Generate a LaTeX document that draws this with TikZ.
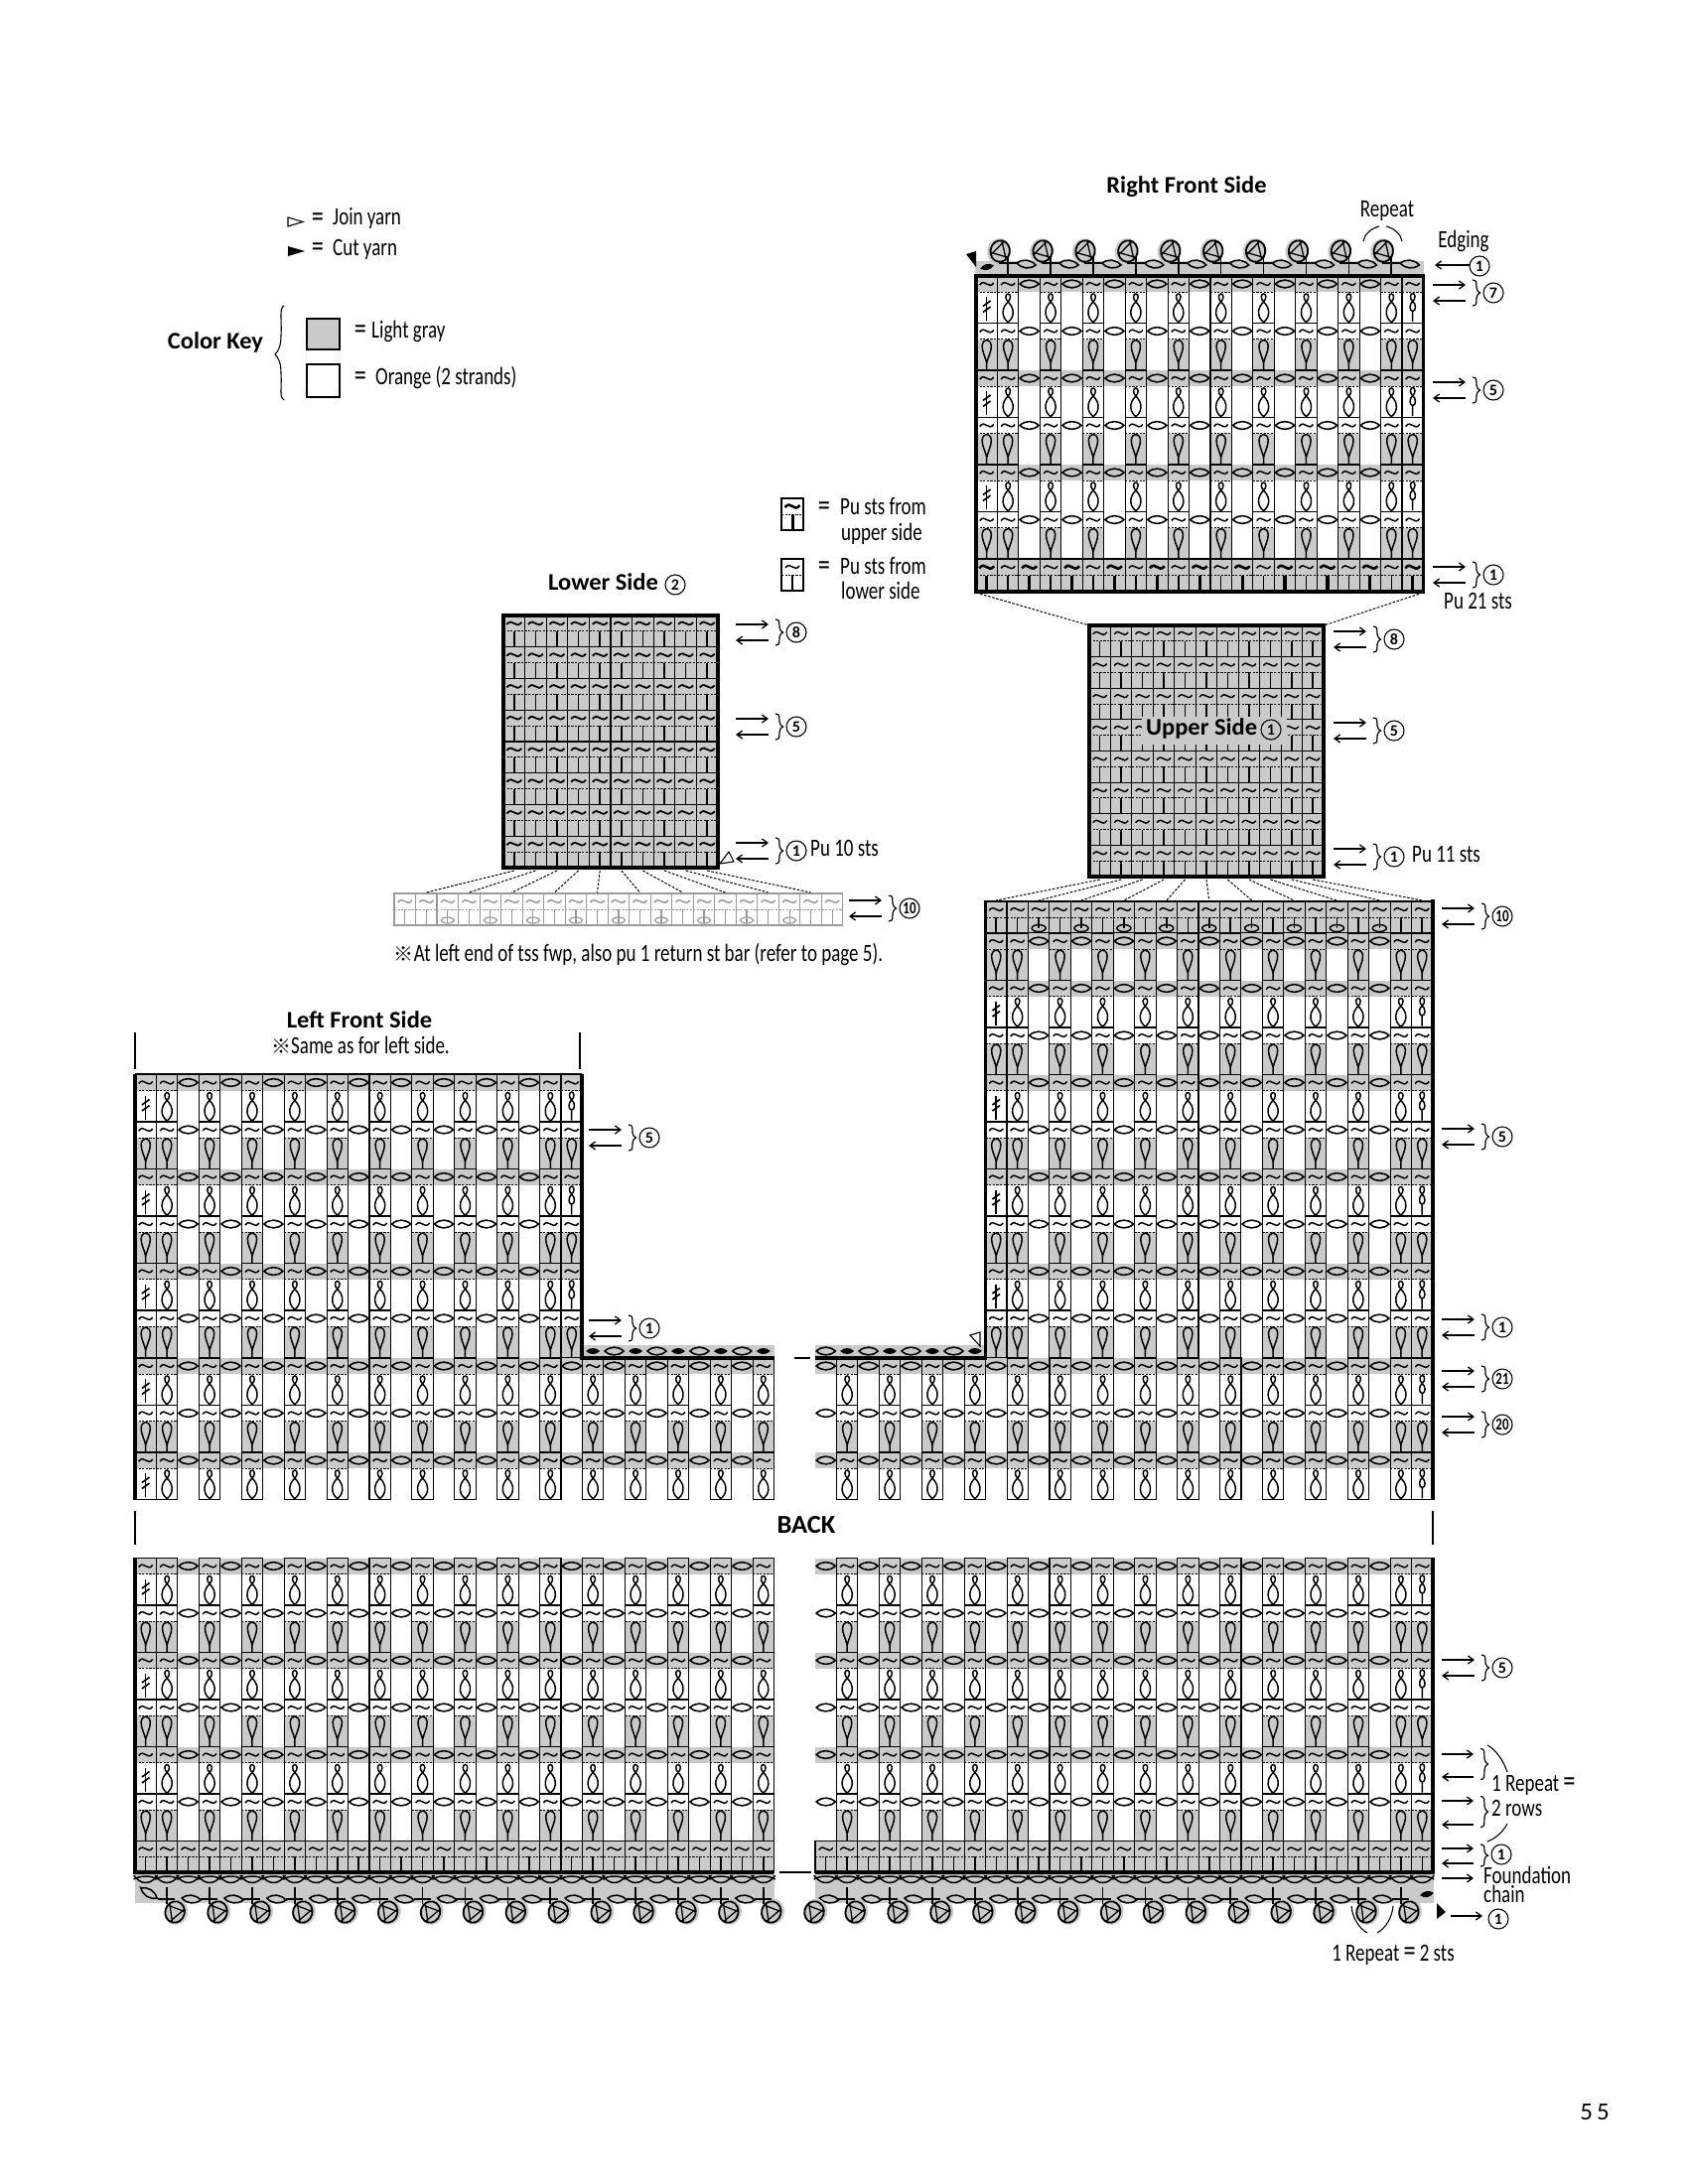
\documentclass[tikz,border=0pt]{standalone}
\usepackage{fontspec}
\usetikzlibrary{arrows.meta}
\setmainfont{Carlito}
\newfontfamily\cond{Carlito}[FakeStretch=0.76]
\newfontfamily\hdg{Carlito}[FakeStretch=1.02]
\newfontfamily\cjk{Noto Sans CJK JP}
\definecolor{gfill}{HTML}{C9CACA}
\definecolor{gline}{HTML}{9A9A9A}
\def\cw{21.45}
\newif\ifbx
\def\setbx#1#2#3{\bxfalse\ifodd#1\relax\bxtrue\fi\ifnum#1=#2\relax\bxtrue\fi\ifnum#1=#3\relax\bxtrue\fi}
\newcounter{gc}
\newcommand\eqq{{\fontsize{32}{27}\selectfont =}}
\newcommand\refmark{{\cjk\fontsize{20}{20}\selectfont ※}}
\tikzset{
  boxln/.style={line width=1.1pt},
  dashln/.style={line width=1pt,dash pattern=on 2.2pt off 1.4pt},
  sym/.style={line width=1.5pt},
  frameln/.style={line width=3.6pt,line cap=rect},
  heavy/.style={line width=4.6pt},
  fan/.style={line width=1pt,dash pattern=on 2.6pt off 1.6pt},
  arr/.style={line width=1.3pt,-{Straight Barb[length=5.5pt,width=8pt]}},
  txt/.style={font=\cond\fontsize{25}{27}\selectfont,inner sep=0pt},
  mw/.style={anchor=mid west,yshift=-3.5pt},
  eqn/.style={font=\cond\fontsize{32}{27}\selectfont,inner sep=0pt},
  head/.style={font=\hdg\bfseries\fontsize{24}{27}\selectfont,inner sep=0pt},
  cn/.style={circle,draw,line width=1.1pt,minimum size=20pt,inner sep=0pt,font=\bfseries\fontsize{16}{16}\selectfont},
  cnw/.style={cn,font=\cond\bfseries\fontsize{17}{16}\selectfont},
  tld/.pic={\draw[sym] (-7,1) .. controls (-4.5,-2.6) and (-2,-1.4) .. (0,0) .. controls (2,1.4) and (4.5,2.6) .. (7,-1);},
  tldk/.pic={\draw[line width=2.6pt] (-7.5,1) .. controls (-4.5,-2.8) and (-2,-1.4) .. (0,0) .. controls (2,1.4) and (4.5,2.8) .. (7.5,-1);},
  tldm/.pic={\draw[line width=1.8pt] (-7.5,1) .. controls (-4.5,-2.6) and (-2,-1.4) .. (0,0) .. controls (2,1.4) and (4.5,2.6) .. (7.5,-1);},
  lens/.pic={\draw[line width=1.6pt] (-9.5,0) .. controls (-4,-5.2) and (4,-5.2) .. (9.5,0) .. controls (4,5.2) and (-4,5.2) .. cycle;},
  blackoval/.pic={\fill (-7,0) .. controls (-3,-4) and (3,-4) .. (7,0) .. controls (3,4) and (-3,4) .. cycle;},
  eightsym/.pic={\draw[sym] (0,10) .. controls (-3.2,7) and (-2.8,2) .. (0,2) .. controls (2.8,2) and (3.2,7) .. (0,10)
      .. controls (-3,13) and (-5.6,17) .. (-5,22) .. controls (-4.7,26) and (-2,29) .. (0,30.6) .. controls (2,29) and (4.7,26) .. (5,22) .. controls (5.6,17) and (3,13) .. (0,10);},
  dropsym/.pic={\draw[sym] (0,24) .. controls (-1.5,18) and (-4.8,12) .. (-4.6,7) .. controls (-4.4,3) and (-2,1) .. (0,1) .. controls (2,1) and (4.4,3) .. (4.6,7) .. controls (4.8,12) and (1.5,18) .. (0,24) -- (0,31.5);},
  daggsym/.pic={\draw[sym] (0,5) -- (0,29); \draw[line width=1.7pt] (-3.8,14.5) -- (3.8,9) (-3.8,20.5) -- (3.8,15);},
  neightsym/.pic={\draw[sym] (0,9.5) .. controls (-3.2,7) and (-2.8,1.5) .. (0,1.5) .. controls (2.8,1.5) and (3.2,7) .. (0,9.5) .. controls (-3.6,12) and (-3.6,19.5) .. (0,19.5) .. controls (3.6,19.5) and (3.6,12) .. (0,9.5) (0,19.5) -- (0,30);},
  eyestem/.pic={\draw[line width=1.5pt,fill=gfill] (0,11) ellipse[x radius=7,y radius=3.5]; \draw[line width=1.6pt] (0,0) -- (0,11);},
  eyestemg/.pic={\draw[line width=1.2pt] (0,11) ellipse[x radius=6.6,y radius=3]; \draw[line width=1.2pt] (0,0) -- (0,14);},
  flowerx/.pic={\fill[gfill] (1,-0.5) ellipse[x radius=12,y radius=13.2];
    \draw[line width=1.8pt] (0,0) ellipse[x radius=9.7,y radius=10.8];
    \draw[line width=1.3pt] (90:10.5) -- (222:9.5) (210:9.5) -- (342:9.5) (330:9.5) -- (102:10.5);},
  brc/.pic={\draw[line width=1.2pt] (-3,-13) .. controls (2,-13) and (0.5,-9) .. (1,-5) .. controls (1.3,-2) and (3,-0.5) .. (4.5,0) .. controls (3,0.5) and (1.3,2) .. (1,5) .. controls (0.5,9) and (2,13) .. (-3,13);},
}
% region of alternating rows: x0, n, y0, types, extra box A, extra box B
\newcommand\chartx[6]{%
  \pgfmathtruncatemacro\lastc{#2-1}%
  \pgfmathsetmacro\xe{#1+#2*\cw}%
  \foreach \t [count=\r from 0] in {#4}{%
    \pgfmathsetmacro\yy{#3+\r*47.5}%
    \pgfmathsetmacro\ya{\yy+16}%
    \pgfmathsetmacro\ym{\yy+8}%
    \pgfmathsetmacro\yb{\yy+47.5}%
    \if\t B\else\fill[gfill] (#1,\yy) rectangle (\xe,\ya);\fi
    \if\t A\else
      \foreach \c in {0,...,\lastc}{\setbx\c{#5}{#6}\ifbx\pgfmathsetmacro\xl{#1+\c*\cw}\pgfmathsetmacro\xr{\xl+\cw}\fill[gfill] (\xl,\ya) rectangle (\xr,\yb);\fi}%
    \fi
    \foreach \c in {0,...,\lastc}{%
      \setbx\c{#5}{#6}%
      \pgfmathsetmacro\xl{#1+\c*\cw}\pgfmathsetmacro\xr{\xl+\cw}\pgfmathsetmacro\xm{\xl+\cw/2}%
      \ifbx
        \draw[boxln] (\xl,\yy) rectangle (\xr,\yb);
        \draw[dashln] (\xl,\ya) -- (\xr,\ya);
        \pic at (\xm,\ym) {tld};
        \if\t A
          \ifnum\c=#5\relax\pic at (\xm,\ya) {daggsym};\else
          \ifnum\c=#6\relax\pic at (\xm,\ya) {neightsym};\else
          \pic at (\xm,\ya) {eightsym};\fi\fi
        \else
          \pic at (\xm,\ya) {dropsym};
        \fi
      \else
        \pic at (\xm,\ym) {lens};
      \fi
    }%
  }%
}
% rows of tilde + stem: x0,n,w,y0,nrows,h,mode
\newcommand\stemrows[7]{%
  \pgfmathtruncatemacro\lastc{#2-1}%
  \pgfmathtruncatemacro\lastr{#5-1}%
  \foreach \r in {0,...,\lastr}{%
    \pgfmathsetmacro\yy{#4+\r*#6}\pgfmathsetmacro\ya{\yy+#6/2}\pgfmathsetmacro\ym{\yy+#6/4}\pgfmathsetmacro\yb{\yy+#6}%
    \foreach \c in {0,...,\lastc}{%
      \pgfmathsetmacro\xl{#1+\c*#3}\pgfmathsetmacro\xr{\xl+#3}\pgfmathsetmacro\xm{\xl+#3/2}%
      \if#7G\else\fill[gfill] (\xl,\yy) rectangle (\xr,\yb);\fi
      \draw[boxln] (\xl,\yy) rectangle (\xr,\yb);
      \draw[dashln] (\xl,\ya) -- (\xr,\ya);
      \ifodd\c\def\evn{0}\else\def\evn{1}\fi
      \if#7P\ifnum\evn=1 \pic at (\xm,\ym) {tldk};\draw[line width=3.2pt] (\xm,\ya) -- (\xm,\yb);\else\pic at (\xm,\ym) {tld};\draw[sym] (\xm,\ya) -- (\xm,\yb);\fi\fi
      \if#7N\pic at (\xm,\ym) {tld};\draw[sym] (\xm,\ya) -- (\xm,\yb);\fi
      \if#7K\pic at (\xm,\ym) {tldm};\draw[sym] (\xm,\ya) -- (\xm,\yb);\fi
      \if#7E\pic at (\xm,\ym) {tld};
        \ifnum\evn=1 \ifnum\c>0 \ifnum\c<20 \pic at (\xm,\ya) {eyestem};\else\draw[sym] (\xm,\ya) -- (\xm,\yb);\fi\else\draw[sym] (\xm,\ya) -- (\xm,\yb);\fi
        \else\draw[sym] (\xm,\ya) -- (\xm,\yb);\fi\fi
      \if#7G\pic at (\xm,\ym) {tld};
        \ifnum\evn=1 \ifnum\c>0 \ifnum\c<20 \pic at (\xm,\ya) {eyestemg};\else\draw[line width=1.2pt] (\xm,\ya) -- (\xm,\yb);\fi\else\draw[line width=1.2pt] (\xm,\ya) -- (\xm,\yb);\fi
        \else\draw[line width=1.2pt] (\xm,\ya) -- (\xm,\yb);\fi\fi
    }%
  }%
}
% arrow pair, brace, circled number
\newcommand\grp[3]{%
  \stepcounter{gc}%
  \coordinate (ga\thegc) at (#1,#2-8);
  \coordinate (gb\thegc) at (#1+33,#2-8);
  \coordinate (gd\thegc) at (#1+33,#2+8);
  \coordinate (ge\thegc) at (#1,#2+8);
  \draw[arr] (ga\thegc) -- (gb\thegc);
  \draw[arr] (gd\thegc) -- (ge\thegc);
  \pic at (#1+43,#2) {brc};
  \ifnum#3>9 \node[cnw] (gn\thegc) at (#1+61,#2) {#3};\else\node[cn] (gn\thegc) at (#1+61,#2) {#3};\fi
}
\begin{document}
\begin{tikzpicture}[x=1pt,y=-1pt]
\useasboundingbox (0,0) rectangle (1700,2200);
\fill[white] (0,0) rectangle (1700,2200);

% ---------- Right Front Side
\fill[gfill] (982,263) rectangle (1434,278);
\chartx{983}{21}{278}{A,B,A,B,A,B}{0}{20}
\stemrows{983}{21}{\cw}{563}{1}{33}{P}
\foreach \c in {1,3,...,19}{
  \pgfmathsetmacro\xm{983+(\c+.5)*\cw}\pgfmathsetmacro\xf{\xm-8}\pgfmathsetmacro\xa{\xm-9}\pgfmathsetmacro\xb{\xm+9}
  \pic[rotate=170] at (\xf,253) {flowerx};
  \draw[line width=1.6pt] (\xm,278) -- (\xm,258) (\xa,265) -- (\xb,265);
}
\foreach \c in {2,4,...,20}{
  \pgfmathsetmacro\xm{983+(\c+.5)*\cw-3}
  \pic[rotate=-6] at (\xm,266) {lens};
}
\pic[rotate=14] at (994,269) {blackoval};
\fill (973,256) -- (983,253) -- (983,269) -- cycle;
\draw[frameln] (983,278) rectangle (1433.5,596);
\node[head] (rf) at (1195,188) {Right Front Side};
\node[txt] (rep) at (1397,212) {Repeat};
\draw[line width=1.1pt] (1373,243) .. controls (1374,236) and (1381,230) .. (1389,228);
\draw[line width=1.1pt] (1412,243) .. controls (1411,236) and (1404,230) .. (1396,228);
\node[txt] (edg) at (1474,243) {Edging};
\coordinate (e1) at (1480,267); \coordinate (e2) at (1445,267);
\draw[arr] (e1) -- (e2);
\node[cn] (e3) at (1490,268) {1};
\grp{1443}{295}{7}
\grp{1443}{393}{5}
\grp{1443}{579}{1}
\node[txt,mw] (pu21) at (1454,608) {Pu 21 sts};

% ---------- Upper Side
\stemrows{1097}{11}{\cw}{630}{8}{31.63}{N}
\draw[frameln] (1097,630) rectangle (1333,883);
\draw[fan] (983,597) -- (1097,630) (1433,597) -- (1333,630);
\fill[gfill] (1150,722) rectangle (1296,750);
\node[head,mw,yshift=1pt] (us) at (1154,736) {Upper Side};
\node[cn] (us2) at (1280,735) {1};
\grp{1343}{644}{8}
\grp{1343}{736}{5}
\grp{1343}{863}{1}
\node[txt,mw] (pu11) at (1422,863) {Pu 11 sts};

% ---------- Lower Side
\stemrows{507}{10}{21.6}{620}{8}{31.75}{K}
\draw[frameln] (507,620) rectangle (723,874);
\node[head,mw,yshift=1pt] (ls) at (552,590) {Lower Side};
\node[cn] (ls2) at (680,589) {2};
\grp{741}{637}{8}
\grp{741}{732}{5}
\grp{741}{857}{1}
\node[txt,mw] (pu10) at (816,857) {Pu 10 sts};
\draw[line width=1.1pt] (725,870) -- (734,858) -- (739,868) -- cycle;
\begin{scope}[color=gline]
\stemrows{397}{21}{21.52}{900}{1}{32}{G}
\end{scope}
\foreach \i in {0,...,9}{
  \pgfmathsetmacro\xa{507+21.6*(\i+.5)}
  \pgfmathsetmacro\xb{397+21.52*(2*\i+1.5)}
  \draw[fan] (\xa,877) -- (\xb,899);
}
\grp{855}{915}{10}
\node[txt] (nt) at (643,961) {\refmark At left end of tss fwp, also pu 1 return st bar (refer to page 5).};

% ---------- Body above the neckline
\chartx{136}{21}{1082.5}{A,B,A,B,A,B}{0}{20}
\stemrows{992.5}{21}{\cw}{908}{1}{32}{E}
\chartx{992.5}{21}{940}{C,A,B,A,B,A,B,A,B}{0}{20}
\foreach \i in {0,...,10}{
  \pgfmathsetmacro\xa{1097+\cw*(\i+.5)}
  \pgfmathsetmacro\xb{992.5+\cw*(2*\i+.5)}
  \draw[fan] (\xa,886) -- (\xb,907);
}
% ledges
\fill[gfill] (586,1355) rectangle (780,1368);
\fill[gfill] (821,1355) rectangle (992,1368);
\foreach \c in {21,22,...,29}{
  \pgfmathsetmacro\xm{136+(\c+.5)*\cw}
  \ifodd\c\pic at (\xm,1361) {blackoval};\else\pic at (\xm,1361) {lens};\fi
}
\foreach \c in {0,...,7}{
  \pgfmathsetmacro\xm{821+(\c+.5)*\cw}
  \ifodd\c\pic at (\xm,1361) {blackoval};\else\pic at (\xm,1361) {lens};\fi
}
\draw[line width=1.1pt] (977,1345) -- (987,1342) -- (987,1356) -- cycle;
% ---------- Below the neckline
\chartx{136}{30}{1368}{A,B,A}{0}{-1}
\chartx{821}{29}{1368}{A,B,A}{-1}{28}
\draw[heavy] (136,1082) -- (136,1511);
\draw[line width=1.6pt] (136,1082) -- (586,1082);
\draw[line width=3.6pt] (586,1082) -- (586,1368);
\draw[line width=3.6pt] (584,1368) -- (780,1368);
\draw[line width=3.6pt] (821,1368) -- (994,1368);
\draw[line width=3.6pt] (992.5,908) -- (992.5,1370);
\draw[line width=2pt] (991,908) -- (1444,908);
\draw[heavy] (1443,906) -- (1443,1511);
\draw[line width=1.6pt] (800,1368) -- (816,1368);
\draw[line width=1.2pt] (136,1040) -- (136,1077) (584,1040) -- (584,1077);
\node[head] (lf) at (362,1027) {Left Front Side};
\node[txt] (lf2) at (363,1053) {\refmark Same as for left side.};
\grp{593}{1146}{5}
\grp{593}{1338}{1}
\grp{1452}{923}{10}
\grp{1452}{1145}{5}
\grp{1452}{1337}{1}
\grp{1452}{1389}{21}
\grp{1452}{1435}{20}

% ---------- BACK
\draw[line width=1.2pt] (136,1522) -- (136,1556) (1443,1522) -- (1443,1556);
\node[head,font=\hdg\bfseries\fontsize{26}{27}\selectfont] (bk) at (812,1536) {BACK};
\chartx{136}{30}{1569.5}{A,B,A,B,A,B}{0}{-1}
\chartx{821}{29}{1569.5}{A,B,A,B,A,B}{-1}{28}
\stemrows{136}{30}{\cw}{1854.5}{1}{31.5}{N}
\stemrows{821}{29}{\cw}{1854.5}{1}{31.5}{N}
% edging
\fill[gfill] (136,1888) rectangle (780,1917);
\fill[gfill] (821,1888) rectangle (1444,1917);
\foreach \x/\n in {136/29,821/28}{
  \foreach \c in {0,...,\n}{
    \pgfmathsetmacro\xm{\x+(\c+.5)*\cw}
    \draw[line width=1.5pt] (\xm-12,1893) .. controls (\xm-5,1889) and (\xm+5,1889) .. (\xm+12,1893) (\xm-12,1889) .. controls (\xm-5,1899) and (\xm+5,1899) .. (\xm+12,1889);
  }
}
\foreach \x/\n in {136/29,821/27}{
  \foreach \c in {1,3,...,\n}{
    \pgfmathsetmacro\xm{\x+(\c+.5)*\cw}\pgfmathsetmacro\xf{\xm+8}\pgfmathsetmacro\xa{\xm-9}\pgfmathsetmacro\xb{\xm+8}
    \pic[rotate=-15] at (\xf,1926) {flowerx};
    \draw[line width=1.6pt] (\xm,1901) -- (\xm,1918) (\xa,1913) -- (\xb,1913);
  }
}
\foreach \x/\n in {136/28,821/26}{
  \foreach \c in {2,4,...,\n}{
    \pgfmathsetmacro\xm{\x+(\c+.5)*\cw+3}
    \pic[rotate=-6] at (\xm,1913) {lens};
  }
}
\pic[rotate=-6] at (835,1913) {lens};
\pic[rotate=-32] at (150,1907) {lens};
\pic[rotate=-15] at (820,1926) {flowerx};
\pic[rotate=10] at (1437,1908) {blackoval};
\fill (1447,1917) -- (1456,1926) -- (1447,1933) -- cycle;
\draw[heavy] (136,1569) -- (136,1887);
\draw[line width=4pt] (134,1886) -- (779,1886);
\draw[line width=4pt] (821,1886) -- (1445,1886);
\draw[heavy] (1443,1569) -- (1443,1887);
\draw[line width=1.3pt] (785,1886) -- (817,1886);
% labels right of the back
\grp{1452}{1680}{5}
\coordinate (r1a) at (1452,1767); \coordinate (r1b) at (1484,1767);
\coordinate (r2a) at (1484,1790); \coordinate (r2b) at (1452,1790);
\coordinate (r3a) at (1452,1814); \coordinate (r3b) at (1484,1814);
\coordinate (r4a) at (1484,1838); \coordinate (r4b) at (1452,1838);
\draw[arr] (r1a) -- (r1b); \draw[arr] (r2a) -- (r2b); \draw[arr] (r3a) -- (r3b); \draw[arr] (r4a) -- (r4b);
\pic[yscale=1.2] at (1494,1777) {brc};
\pic[yscale=1.2] at (1494,1825) {brc};
\draw[line width=1.1pt] (1498,1758) .. controls (1506,1762) and (1514,1773) .. (1518,1785);
\draw[line width=1.1pt] (1518,1837) .. controls (1514,1845) and (1506,1852) .. (1498,1855);
\node[txt,mw] (rp1) at (1502,1799) {1 Repeat\,\eqq};
\node[txt,mw] (rp2) at (1502,1824) {2 rows};
\coordinate (f1a) at (1452,1862); \coordinate (f1b) at (1484,1862);
\coordinate (f2a) at (1484,1877); \coordinate (f2b) at (1452,1877);
\draw[arr] (f1a) -- (f1b); \draw[arr] (f2a) -- (f2b);
\pic[yscale=.85] at (1494,1869) {brc};
\node[cn] (f3) at (1512,1868) {1};
\coordinate (f4a) at (1452,1892); \coordinate (f4b) at (1484,1892);
\draw[arr] (f4a) -- (f4b);
\node[txt,anchor=base west,align=left,font=\cond\fontsize{25}{19.5}\selectfont] (fc1) at (1494,1916.5) {Foundation\\chain};
\coordinate (c1a) at (1461,1930); \coordinate (c1b) at (1493,1930);
\draw[arr] (c1a) -- (c1b);
\node[cn] (c1c) at (1509,1933) {1};
\draw[line width=1.1pt] (1361,1920) .. controls (1362,1931) and (1368,1942) .. (1377,1947);
\draw[line width=1.1pt] (1403,1920) .. controls (1402,1931) and (1396,1942) .. (1387,1947);
\node[txt] (rp3) at (1403,1969) {1 Repeat\,\eqq\,2 sts};

% ---------- Legends
\draw[line width=1.1pt] (290,219) -- (305,223.5) -- (290,228) -- cycle;
\node[eqn] (j0) at (320,222) {=};
\node[txt,mw] (j1) at (335,221) {Join yarn};
\fill (290,248) -- (307,253) -- (290,258) -- cycle;
\node[eqn] (c0) at (320,252) {=};
\node[txt,mw] (c1) at (335,252) {Cut yarn};
\node[head] (ck) at (217,345) {Color Key};
\draw[line width=1.1pt] (286,308) .. controls (281,310) and (284,322) .. (283,338) .. controls (283,349) and (280,354) .. (277,357) .. controls (280,360) and (283,365) .. (283,376) .. controls (284,392) and (281,401) .. (286,403);
\draw[line width=1.5pt,fill=gfill] (309,321) rectangle (342,352);
\draw[line width=1.5pt] (309,367) rectangle (342,400);
\node[eqn] (k0) at (363,335) {=};
\node[txt,mw] (k1) at (374,335) {Light gray};
\node[eqn] (k2) at (363,382) {=};
\node[txt,mw] (k3) at (378,382) {Orange (2 strands)};
% pu legend
\draw[line width=1.2pt] (787,502) rectangle (809,534);
\draw[dashln] (787,518) -- (809,518);
\pic at (798,510) {tldk};
\draw[line width=3pt] (798,518) -- (798,534);
\node[eqn] (p0) at (830,513) {=};
\node[txt,mw] (p1) at (846,513) {Pu sts from};
\node[txt,mw] (p2) at (847,539) {upper side};
\draw[line width=1.2pt] (787,563) rectangle (809,595);
\draw[dashln] (787,579) -- (809,579);
\pic at (798,571) {tld};
\draw[sym] (798,579) -- (798,595);
\node[eqn] (q0) at (830,573) {=};
\node[txt,mw] (q1) at (846,573) {Pu sts from};
\node[txt,mw] (q2) at (847,598) {lower side};
% page number
\node[font=\fontsize{25}{27}\selectfont,inner sep=0pt] (pg) at (1606,2128) {5\,5};
\end{tikzpicture}
\end{document}
